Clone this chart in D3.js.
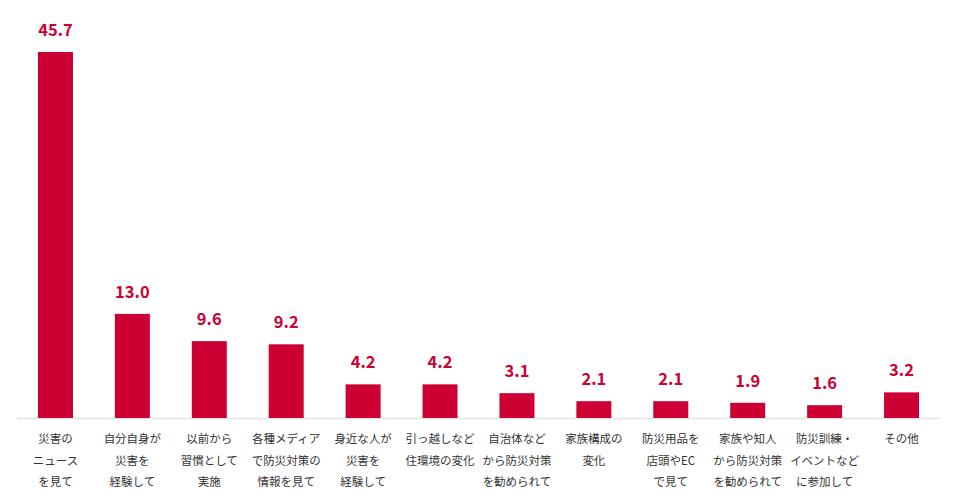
<!DOCTYPE html>
<html>
<head>
<meta charset="utf-8">
<script src="https://cdn.jsdelivr.net/npm/d3@7"></script>
<style>
  body { margin: 0; background: #fff; }
  svg { display: block; }
</style>
</head>
<body>
<div id="chart"></div>
<script>
// categories (each label split into lines as shown)
var categories = [
  ["災害の", "ニュース", "を見て"],
  ["自分自身が", "災害を", "経験して"],
  ["以前から", "習慣として", "実施"],
  ["各種メディア", "で防災対策の", "情報を見て"],
  ["身近な人が", "災害を", "経験して"],
  ["引っ越しなど", "住環境の変化"],
  ["自治体など", "から防災対策", "を勧められて"],
  ["家族構成の", "変化"],
  ["防災用品を", "店頭やEC", "で見て"],
  ["家族や知人", "から防災対策", "を勧められて"],
  ["防災訓練・", "イベントなど", "に参加して"],
  ["その他"]
];
var values = [45.7, 13.0, 9.6, 9.2, 4.2, 4.2, 3.1, 2.1, 2.1, 1.9, 1.6, 3.2];

var width = 957,
    height = 501;

var red = "#cc0033";
var font = "'Noto Sans CJK JP', 'Noto Sans', sans-serif";

var svg = d3.select("#chart").append("svg")
    .attr("width", width)
    .attr("height", height);

var x = d3.scaleBand()
    .domain(d3.range(categories.length))
    .range([17, 940])
    .paddingInner(0.545)
    .paddingOuter(0.2725);

var y = d3.scaleLinear()
    .domain([0, 45.7])
    .range([418, 52]);

// baseline
svg.append("line")
    .attr("x1", 17)
    .attr("x2", 940)
    .attr("y1", y(0) + 0.5)
    .attr("y2", y(0) + 0.5)
    .style("stroke", "#e3e3e3")
    .style("stroke-width", 1.5);

svg.selectAll(".bar")
    .data(values)
    .enter()
    .append("rect")
      .attr("class", "bar")
      .attr("x", function(d, i) { return x(i); })
      .attr("y", function(d) { return y(d); })
      .attr("width", x.bandwidth())
      .attr("height", function(d) { return y(0) - y(d); })
      .style("fill", red);

svg.selectAll(".value")
    .data(values)
    .enter()
    .append("text")
      .attr("class", "value")
      .attr("x", function(d, i) { return x(i) + x.bandwidth() / 2; })
      .attr("y", function(d) { return y(d) - 16; })
      .style("text-anchor", "middle")
      .style("font-family", font)
      .style("font-weight", "bold")
      .style("font-size", "16.5px")
      .style("fill", red)
      .text(function(d) { return d.toFixed(1); });

var labels = svg.selectAll(".label")
    .data(categories)
    .enter()
    .append("text")
      .attr("class", "label")
      .style("text-anchor", "middle")
      .style("font-family", font)
      .style("font-size", "11.5px")
      .style("fill", "#333");

labels.selectAll("tspan")
    .data(function(d, i) { return d.map(function(s) { return {s: s, i: i}; }); })
    .enter()
    .append("tspan")
      .attr("x", function(d) { return x(d.i) + x.bandwidth() / 2; })
      .attr("y", function(d, j) { return 443 + j * 21.5; })
      .text(function(d) { return d.s; });
</script>
</body>
</html>
